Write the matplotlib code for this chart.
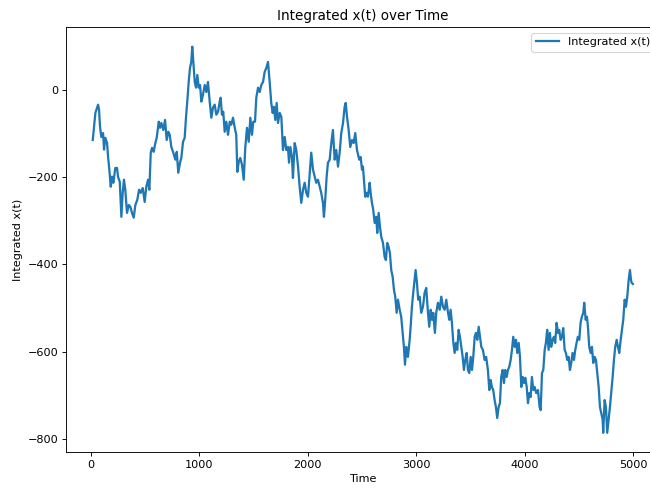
import matplotlib
matplotlib.use("Agg")
import matplotlib.pyplot as plt

# integrated signal sampled along the run
time = [16, 25, 40, 65, 74, 83, 95, 111, 120, 132, 148, 157, 169, 182, 194, 206,
        224, 240, 249, 265, 280, 292, 304, 316, 332, 348, 363, 378, 394, 409, 427,
        443, 458, 477, 495, 510, 526, 538, 551, 563, 578, 593, 606, 625, 637, 649,
        667, 683, 698, 713, 726, 741, 759, 778, 791, 805, 821,
        833, 849, 864, 876, 888, 901, 913, 925, 934, 944, 957, 969, 981, 994, 1006,
        1018, 1033, 1049, 1064, 1079, 1095, 1110, 1125, 1141, 1156, 1172, 1187,
        1196, 1208, 1220, 1233, 1248, 1264, 1280, 1294, 1310, 1326, 1340, 1350,
        1363, 1377, 1393, 1409, 1423, 1439, 1455, 1470, 1485, 1497, 1513, 1525,
        1541, 1556, 1571, 1587, 1602, 1617, 1633,
        1649, 1663, 1676, 1688, 1700, 1713, 1725, 1741, 1756, 1771, 1787, 1802,
        1817, 1827, 1839, 1854, 1863, 1879, 1894, 1910, 1925, 1940, 1956, 1971,
        1986, 2002, 2018, 2032, 2048, 2064, 2078, 2094, 2110, 2124, 2140, 2149,
        2161, 2174, 2186, 2202, 2217, 2232, 2248, 2263, 2279, 2294, 2309, 2325,
        2340, 2350, 2362, 2377, 2392, 2408, 2423, 2438, 2454,
        2475, 2488, 2500, 2509, 2518, 2530, 2543, 2555, 2571, 2580, 2592, 2604,
        2617, 2632, 2641, 2654, 2666, 2678, 2694, 2709, 2721, 2733, 2746, 2758,
        2770, 2783, 2795, 2807, 2820, 2832, 2848, 2862, 2875, 2887, 2897, 2909,
        2924, 2940, 2949, 2961, 2973, 2986, 2995, 3007, 3019, 3032, 3047, 3063,
        3078, 3093, 3109, 3121, 3134, 3146, 3158, 3173, 3185, 3201, 3217, 3232,
        3247, 3263, 3278, 3294,
        3306, 3318, 3330, 3343, 3355, 3367, 3379, 3392, 3404, 3416, 3429, 3441,
        3453, 3466, 3478, 3490, 3503, 3515, 3527, 3540, 3552, 3564, 3577, 3589,
        3601, 3616, 3632, 3646, 3662, 3675, 3687, 3699, 3711, 3724, 3736, 3748,
        3761, 3773, 3785, 3798, 3810, 3822, 3835, 3847, 3859, 3872, 3884, 3896,
        3909, 3921, 3933, 3946, 3958, 3970, 3983, 3995, 4007, 4020, 4032, 4044,
        4056, 4068, 4081, 4093, 4108, 4124, 4139,
        4149, 4161, 4173, 4186, 4197, 4209, 4222, 4234, 4246, 4259, 4271, 4283,
        4296, 4308, 4320, 4333, 4345, 4357, 4370, 4382, 4394, 4407, 4419, 4431,
        4443, 4456, 4468, 4480, 4492, 4505, 4517, 4529, 4542, 4551, 4564, 4576,
        4585, 4597, 4610, 4622, 4634, 4647, 4659, 4671, 4684, 4696, 4708, 4721,
        4726, 4739, 4751, 4763, 4776, 4788, 4800, 4813, 4825, 4837, 4850, 4862,
        4874, 4887, 4899, 4911, 4924, 4936, 4948, 4961, 4973, 4982, 4988, 5000]

x_int = [-115, -92, -53, -34, -46, -85, -108, -99, -137, -110, -122, -153, -183, -222, -199, -213,
         -179, -179, -199, -211, -291, -236, -206, -229, -282, -264, -268, -282, -293, -264, -252,
         -229, -236, -225, -257, -222, -206, -229, -144, -133, -142, -122, -110, -73, -87, -76,
         -92, -69, -115, -96, -103, -131, -144, -160, -142, -190, -167,
         -156, -119, -110, -64, -27, 18, 50, 64, 99, 64, 18, 5, 34, 5, 11,
         -27, -11, 11, -5, 18, -27, -64, -41, -34, -57, -50, -27,
         -18, -57, -50, -96, -73, -103, -73, -80, -64, -87, -103, -188,
         -165, -156, -172, -206, -133, -87, -119, -64, -103, -73, -73, -18,
         5, -5, 11, 18, 41, 50, 64,
         16, -30, -53, -39, -69, -30, -76, -53, -62, -138, -108, -138,
         -131, -167, -131, -154, -202, -122, -138, -176, -222, -259, -229, -213,
         -236, -245, -190, -144, -183, -199, -213, -206, -222, -236, -259, -291,
         -252, -199, -167, -160, -122, -92, -160, -138, -176, -144, -99, -76,
         -39, -30, -62, -92, -131, -115, -122, -99, -138,
         -160, -154, -183, -176, -206, -245, -236, -245, -213, -236, -259, -275,
         -305, -291, -328, -282, -314, -337, -351, -383, -390, -351, -360, -374,
         -413, -428, -458, -474, -511, -481, -504, -520, -557, -589, -630, -589,
         -612, -573, -543, -497, -465, -435, -413, -442, -481, -474, -511, -497,
         -465, -454, -511, -543, -504, -527, -511, -557, -511, -488, -504, -474,
         -497, -504, -481, -511,
         -527, -504, -534, -580, -603, -580, -596, -550, -566, -589, -612, -642,
         -619, -603, -642, -649, -612, -642, -612, -566, -557, -573, -543, -566,
         -589, -596, -619, -612, -642, -688, -665, -681, -688, -711, -727, -752,
         -727, -718, -658, -642, -672, -642, -658, -642, -635, -619, -596, -566,
         -589, -573, -603, -580, -612, -681, -658, -672, -660, -681, -718, -695,
         -704, -658, -688, -681, -695, -688, -727,
         -734, -649, -642, -596, -580, -550, -596, -557, -589, -573, -566, -580,
         -534, -557, -550, -573, -566, -546, -596, -603, -619, -612, -642, -626,
         -603, -619, -596, -580, -566, -573, -534, -520, -511, -488, -527, -520,
         -543, -589, -603, -589, -626, -612, -619, -649, -681, -727, -741, -756,
         -786, -711, -727, -786, -756, -727, -695, -658, -619, -589, -573, -589,
         -603, -573, -550, -527, -481, -497, -474, -435, -413, -435, -442, -445]

fig = plt.figure(figsize=(650 / 81.25, 488 / 81.25), dpi=81.25)
ax = fig.add_axes([66 / 650, 36 / 488, 594 / 650, 425 / 488])
ax.plot(time, x_int, lw=2.0, label="Integrated x(t)")
ax.set_xlim(-231, 5250)
ax.set_ylim(-830, 144)
ax.set_title("Integrated x(t) over Time")
ax.set_xlabel("Time")
ax.set_ylabel("Integrated x(t)")
ax.legend(loc="upper right")

fig.savefig("out.png", dpi=81.25)
